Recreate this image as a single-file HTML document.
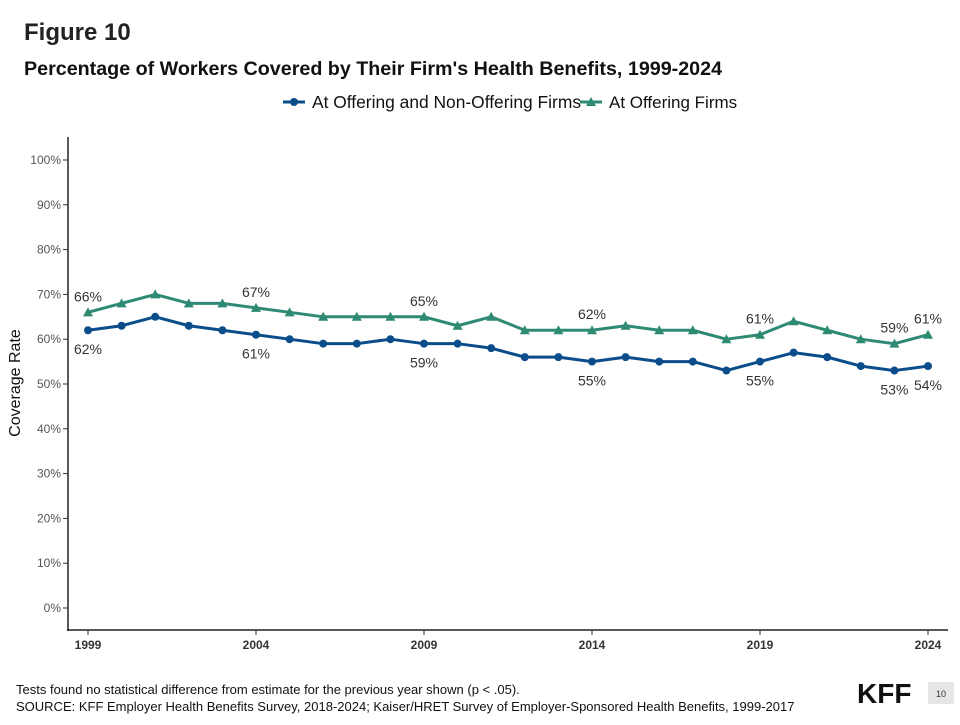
<!DOCTYPE html>
<html><head><meta charset="utf-8"><style>
body{margin:0;background:#fff;font-family:"Liberation Sans",Arial,sans-serif;}
svg text{font-family:"Liberation Sans",Arial,sans-serif;}
</style></head><body>
<svg width="960" height="720" xmlns="http://www.w3.org/2000/svg" id="chart">
<text x="24" y="40" font-size="24" font-weight="bold" fill="#222">Figure 10</text>
<text x="24" y="75" font-size="19.7" font-weight="bold" fill="#111">Percentage of Workers Covered by Their Firm's Health Benefits, 1999-2024</text>
<g>
<g>
<line x1="283" y1="102" x2="305" y2="102" stroke="#0b4d8a" stroke-width="3"/><circle cx="294" cy="102" r="4" fill="#0b4d8a"/>
<text x="312" y="108" font-size="17.4" fill="#111">At Offering and Non-Offering Firms</text></g>
<g>
<line x1="580" y1="102" x2="602" y2="102" stroke="#2e8a72" stroke-width="3"/><path d="M591 97 L596 106 L586 106 Z" fill="#2e8a72"/>
<text x="609" y="108" font-size="17" fill="#111">At Offering Firms</text></g>
</g>
<line x1="68" y1="137" x2="68" y2="631" stroke="#222" stroke-width="1.5"/>
<line x1="67" y1="630" x2="948" y2="630" stroke="#222" stroke-width="1.5"/>
<text transform="translate(20,383) rotate(-90)" text-anchor="middle" font-size="16" fill="#111">Coverage Rate</text>
<g id="axes"></g><g id="series"></g>
<text x="16" y="694" font-size="13" fill="#111">Tests found no statistical difference from estimate for the previous year shown (p &lt; .05).</text>
<text x="16" y="711" font-size="13" fill="#111">SOURCE: KFF Employer Health Benefits Survey, 2018-2024; Kaiser/HRET Survey of Employer-Sponsored Health Benefits, 1999-2017</text>
<text x="857" y="703" font-size="28" font-weight="bold" fill="#111">KFF</text>
<rect x="928" y="682" width="26" height="22" fill="#e6e6e6"/>
<text x="941" y="697" font-size="9" text-anchor="middle" fill="#333">10</text>
</svg>
<script>
const years=[1999,2000,2001,2002,2003,2004,2005,2006,2007,2008,2009,2010,2011,2012,2013,2014,2015,2016,2017,2018,2019,2020,2021,2022,2023,2024];
const allFirms=[62,63,65,63,62,61,60,59,59,60,59,59,58,56,56,55,56,55,55,53,55,57,56,54,53,54];
const offeringFirms=[66,68,70,68,68,67,66,65,65,65,65,63,65,62,62,62,63,62,62,60,61,64,62,60,59,61];
const yTicks=[0,10,20,30,40,50,60,70,80,90,100];
const xTicks=[1999,2004,2009,2014,2019,2024];
const labelYears=[1999,2004,2009,2014,2019,2023,2024];
const NS="http://www.w3.org/2000/svg";
const x=v=>88+(v-1999)*33.6, y=v=>608-v*4.48;
function mk(t,a,p){const e=document.createElementNS(NS,t);for(const k in a)e.setAttribute(k,a[k]);p.appendChild(e);return e;}
const ax=document.getElementById('axes'), se=document.getElementById('series');
yTicks.forEach(t=>{
 const l=mk('line',{x1:63,x2:68,y1:y(t),y2:y(t),stroke:'#333'},ax);
 
 
 const tx=mk('text',{x:61,y:y(t)+4,'text-anchor':'end','font-size':12,fill:'#555'},ax);tx.textContent=t+'%';
 
 
});
xTicks.forEach(t=>{
 const l=mk('line',{x1:x(t),x2:x(t),y1:630,y2:635,stroke:'#333'},ax);
 
 
 const tx=mk('text',{x:x(t),y:649,'text-anchor':'middle','font-size':12,'font-weight':'bold',fill:'#333'},ax);tx.textContent=t;
 
 
});
function series(vals,color,name,tri,above){
 const p=mk('polyline',{points:vals.map((v,i)=>x(years[i])+','+y(v)).join(' '),fill:'none',stroke:color,'stroke-width':3,'stroke-linejoin':'round'},se);
 
 
 vals.forEach((v,i)=>{
  const cx=x(years[i]),cy=y(v);
  const m=tri?mk('path',{d:`M${cx} ${cy-5} L${cx+5} ${cy+4} L${cx-5} ${cy+4} Z`,fill:color},se):mk('circle',{cx:cx,cy:cy,r:4,fill:color},se);
  
  
  if(labelYears.includes(years[i])){
   const t=mk('text',{x:cx,y:above?cy-11:cy+24,'text-anchor':'middle','font-size':14,fill:'#333'},se);
   t.textContent=v+'%';
   
   
  }
 });
}
series(offeringFirms,'#2e8a72','offering-firms',true,true);
series(allFirms,'#0b4d8a','all-firms',false,false);
</script>
</body></html>
